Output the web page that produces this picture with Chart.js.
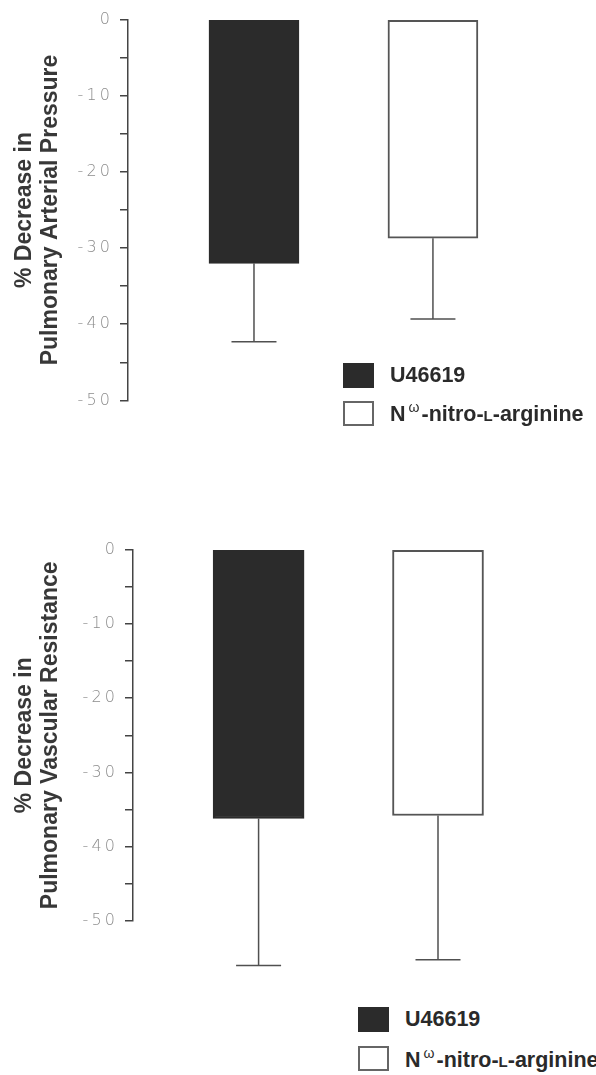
<!DOCTYPE html>
<html>
<head>
<meta charset="utf-8">
<script src="https://cdn.jsdelivr.net/npm/chart.js@4"></script>
<style>
  body { margin: 0; background: #fff; width: 596px; height: 1075px; position: relative; overflow: hidden;
         font-family: 'Liberation Sans', Arial, sans-serif; }
  .wrap { position: absolute; left: 0; width: 596px; }
  #wrapTop { top: 0; height: 420px; }
  #wrapBot { top: 530px; height: 440px; }
  .legend { position: absolute; font-weight: bold; font-size: 21.5px; color: #2a2a2a; }
  .item { display: flex; align-items: center; height: 38px; white-space: nowrap; }
  .box { width: 31px; height: 25px; box-sizing: border-box; border: 2px solid #555; margin-right: 16px; flex: none; }
  .legend sup { font-size: 14px; font-weight: normal; vertical-align: 9px; margin: 0 2px 0 3px; }
  .sc { font-size: 15px; }
</style>
</head>
<body>
<div class="wrap" id="wrapTop"><canvas id="chartTop"></canvas></div>
<div class="wrap" id="wrapBot"><canvas id="chartBot"></canvas></div>
<div class="legend" id="legendTop" style="left:343px;top:356px"></div>
<div class="legend" id="legendBot" style="left:358px;top:1000px"></div>

<script>
// data
const drugs = ['U46619', 'Nω-nitro-L-arginine'];
const drugColors = ['#2b2b2b', '#ffffff'];
const drugBorders = ['#2b2b2b', '#555555'];

// % penurunan tekanan arteri pulmonal (rata-rata dan SD)
const papMean = [-32.0, -28.7];
const papSD = [10.3, 10.6];

// % penurunan resistensi vaskular pulmonal
const pvrMean = [-36.2, -35.8];
const pvrSD = [19.8, 19.4];

const yMin = -50;
const yMax = 0;

// plugin untuk error bar (hanya ke bawah)
const errorBars = {
    id: 'errorBars',
    afterDatasetsDraw(chart, args, opts) {
        const ctx = chart.ctx;
        const yScale = chart.scales.y;
        const meta = chart.getDatasetMeta(0);
        ctx.save();
        ctx.strokeStyle = '#505050';
        ctx.lineWidth = 1.5;
        meta.data.forEach((bar, i) => {
            const low = yScale.getPixelForValue(opts.means[i] - opts.sds[i]);
            ctx.beginPath();
            ctx.moveTo(bar.x, bar.y);
            ctx.lineTo(bar.x, low);
            ctx.moveTo(bar.x - 22.5, low);
            ctx.lineTo(bar.x + 22.5, low);
            ctx.stroke();
        });
        ctx.restore();
    }
};

function makeChart(canvasId, means, sds, titleLines, axisWidth, padTop, padBottom, xMin, xMax, barW) {
    const ctx = document.getElementById(canvasId).getContext('2d');
    return new Chart(ctx, {
        type: 'bar',
        data: {
            datasets: [{
                data: means.map((v, i) => ({ x: i + 1, y: v })),
                backgroundColor: drugColors,
                borderColor: drugBorders,
                borderWidth: 2,
                borderSkipped: false,
                barThickness: barW,
                clip: false
            }]
        },
        options: {
            responsive: true,
            maintainAspectRatio: false,
            animation: false,
            layout: { padding: { left: 0, right: 36, top: padTop, bottom: padBottom } },
            plugins: {
                legend: { display: false },
                tooltip: { enabled: false },
                errorBars: { means: means, sds: sds }
            },
            scales: {
                x: { type: 'linear', offset: false, min: xMin, max: xMax, display: false },
                y: {
                    min: yMin,
                    max: yMax,
                    afterFit: (scale) => { scale.width = axisWidth; },
                    border: { display: true, color: '#444', width: 1.5 },
                    grid: { drawOnChartArea: false, drawTicks: true, tickLength: 8, color: '#444', lineWidth: 1.5 },
                    ticks: {
                        stepSize: 5,
                        padding: 10,
                        color: '#8c8c8c',
                        font: { family: "'DejaVu Sans'", size: 16, weight: 300 },
                        callback: (v) => (v % 10 === 0 ? String(v).split('').join('\u2009') : '')
                    },
                    title: {
                        display: true,
                        text: titleLines,
                        color: '#383838',
                        font: { family: "'Liberation Sans'", size: 23, weight: 'bold', lineHeight: 1.15 },
                        padding: { top: 11, bottom: 0 }
                    }
                }
            }
        },
        plugins: [errorBars]
    });
}

makeChart('chartTop', papMean, papSD, ['% Decrease in', 'Pulmonary Arterial Pressure'], 128, 10, 18, 0.296, 2.71, 90);
makeChart('chartBot', pvrMean, pvrSD, ['% Decrease in', 'Pulmonary Vascular Resistance'], 133, 19, 49, 0.3, 2.68, 91);

// legend HTML dari array drugs
function buildLegend(id, rowHeight) {
    const el = document.getElementById(id);
    drugs.forEach((name, i) => {
        const item = document.createElement('div');
        item.className = 'item';
        item.style.height = rowHeight + 'px';
        const box = document.createElement('span');
        box.className = 'box';
        box.style.background = drugColors[i];
        box.style.borderColor = drugBorders[i] === '#2b2b2b' ? '#2b2b2b' : '#666';
        const label = document.createElement('span');
        label.innerHTML = name.replace('ω', '<sup>ω</sup>').replace('-L-', '-<span class="sc">L</span>-');
        item.appendChild(box);
        item.appendChild(label);
        el.appendChild(item);
    });
}
buildLegend('legendTop', 38);
buildLegend('legendBot', 39);
</script>
</body>
</html>
